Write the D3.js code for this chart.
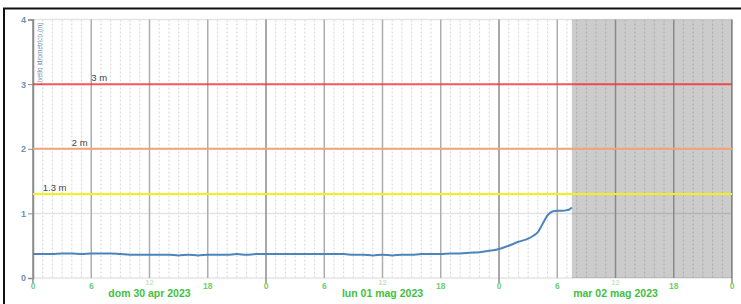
<!DOCTYPE html>
<html>
<head>
<meta charset="utf-8">
<script src="https://cdn.jsdelivr.net/npm/d3@7"></script>
<style>
  body { margin: 0; background: #fff; }
  svg { display: block; font-family: "Liberation Sans", Arial, sans-serif; }
</style>
</head>
<body>
<div id="chart"></div>
<script>
// hydrometric level readings, hours counted from 30 apr 2023 00:00
const levelHours = [
  0, 1, 2, 3, 4, 5, 6, 7, 8, 9, 10, 11, 12, 13, 14, 15, 16, 17, 18, 19, 20, 21, 22, 23,
  24, 25, 26, 27, 28, 29, 30, 31, 32, 33, 34, 35, 36, 37, 38, 39, 40, 41, 42, 43, 44, 45, 46, 47,
  48, 49, 50, 51, 51.5, 52, 52.5, 53, 53.5, 54, 54.5, 55, 55.25, 55.5
];
const levelValues = [
  0.37, 0.37, 0.37, 0.38, 0.38, 0.37, 0.38, 0.38, 0.38, 0.37, 0.36, 0.36, 0.36, 0.36, 0.36, 0.35, 0.36, 0.35, 0.36, 0.36, 0.36, 0.37, 0.36, 0.37,
  0.37, 0.37, 0.37, 0.37, 0.37, 0.37, 0.37, 0.37, 0.37, 0.36, 0.36, 0.35, 0.36, 0.35, 0.36, 0.36, 0.37, 0.37, 0.37, 0.38, 0.38, 0.39, 0.40, 0.42,
  0.45, 0.50, 0.56, 0.61, 0.65, 0.71, 0.84, 0.97, 1.03, 1.04, 1.04, 1.05, 1.06, 1.09
];

const thresholdValues = [3, 2, 1.3];
const thresholdLabels = ["3 m", "2 m", "1.3 m"];
const thresholdColors = ["rgba(255,40,40,0.75)", "#f4a27a", "#f2f21a"];

const dayLabels = ["dom 30 apr 2023", "lun 01 mag 2023", "mar 02 mag 2023"];
const yTicks = [0, 1, 2, 3, 4];
const yTitle = "Livello idrometrico (m)";

const start = new Date(2023, 3, 30, 0, 0);
const end = new Date(2023, 4, 3, 0, 0);
const forecastStart = new Date(2023, 4, 2, 7, 30);

const width = 741, height = 304;
const margin = { top: 19.5, right: 9, bottom: 26, left: 33 };

const svg = d3.select("#chart").append("svg")
  .attr("width", width)
  .attr("height", height);

// frame of the screenshot
svg.append("path")
  .attr("d", `M4,${height} V8.5 H${width}`)
  .attr("fill", "none")
  .attr("stroke", "#111")
  .attr("stroke-width", 2);

const x = d3.scaleTime()
  .domain([start, end])
  .range([margin.left, width - margin.right]);

const y = d3.scaleLinear()
  .domain([0, 4])
  .range([height - margin.bottom, margin.top]);

const data = levelHours.map((h, i) => ({ date: d3.timeMinute.offset(start, h * 60), value: levelValues[i] }));

// hourly dotted grid
const hours = d3.timeHour.range(start, end);
svg.append("g")
  .selectAll("line")
  .data(hours.filter(d => d.getHours() % 6 !== 0))
  .join("line")
  .attr("x1", d => x(d)).attr("x2", d => x(d))
  .attr("y1", y(4)).attr("y2", y(0))
  .attr("stroke", "#d6d6d6")
  .attr("stroke-dasharray", "2,2");

// horizontal grid
svg.append("g")
  .selectAll("line")
  .data(yTicks)
  .join("line")
  .attr("x1", x(start)).attr("x2", x(end))
  .attr("y1", d => y(d)).attr("y2", d => y(d))
  .attr("stroke", "#e4e4e4")
  .attr("stroke-width", 1.5);

// 6-hour solid grid, midnight darker
const sixHours = d3.timeHour.every(6).range(start, d3.timeHour.offset(end, 1));
svg.append("g")
  .selectAll("line")
  .data(sixHours)
  .join("line")
  .attr("x1", d => x(d)).attr("x2", d => x(d))
  .attr("y1", y(4))
  .attr("y2", d => d.getHours() === 0 ? y(0) + 5 : y(0))
  .attr("stroke", d => d.getHours() === 0 ? "#8c8c8c" : "#adadad")
  .attr("stroke-width", 1.5);

// shaded area after the last reading
svg.append("rect")
  .attr("x", x(forecastStart))
  .attr("y", y(4))
  .attr("width", x(end) - x(forecastStart))
  .attr("height", y(0) - y(4))
  .attr("fill", "rgba(0,0,0,0.2)");

// y axis
const gy = svg.append("g")
  .attr("transform", `translate(${x(start)},0)`)
  .call(d3.axisLeft(y).tickValues(yTicks).tickSize(5).tickFormat(d3.format("d")));
gy.select(".domain").attr("stroke", "#8c8c8c").attr("stroke-width", 1.5);
gy.selectAll(".tick line").attr("stroke", "#8c8c8c");
gy.selectAll(".tick text")
  .attr("fill", "#6f8fb8")
  .attr("font-size", 9)
  .attr("font-weight", "bold")
  .attr("x", -7);

svg.append("text")
  .attr("transform", `translate(${x(start) + 9},${y(4) + 66}) rotate(-90)`)
  .attr("text-anchor", "start")
  .attr("fill", "#6f8fb8")
  .attr("font-family", "'Liberation Sans Narrow', 'Liberation Sans', Arial, sans-serif")
  .attr("font-size", 7.5)
  .attr("textLength", 63)
  .attr("lengthAdjust", "spacingAndGlyphs")
  .text(yTitle);

// threshold lines
thresholdValues.forEach((v, i) => {
  svg.append("line")
    .attr("x1", x(start)).attr("x2", x(end))
    .attr("y1", y(v)).attr("y2", y(v))
    .attr("stroke", thresholdColors[i])
    .attr("stroke-width", 2);
  svg.append("text")
    .attr("x", x(d3.timeHour.offset(start, [6.5, 4.2, 1.4][i])))
    .attr("y", y(v) - 3)
    .attr("fill", "#444")
    .attr("font-size", 9.5)
    .text(thresholdLabels[i]);
});

// level line
const line = d3.line()
  .x(d => x(d.date))
  .y(d => y(d.value))
  .curve(d3.curveMonotoneX);

svg.append("path")
  .datum(data)
  .attr("fill", "none")
  .attr("stroke", "#4d84bd")
  .attr("stroke-width", 2)
  .attr("stroke-linejoin", "round")
  .attr("d", line);

// x tick labels
svg.append("g")
  .selectAll("text")
  .data(sixHours)
  .join("text")
  .attr("x", d => x(d))
  .attr("y", d => d.getHours() === 12 ? y(0) + 6.5 : y(0) + 10.5)
  .attr("text-anchor", "middle")
  .attr("font-size", d => d.getHours() === 12 ? 7.5 : 8.5)
  .attr("font-weight", "bold")
  .attr("fill", d => d.getHours() === 12 ? "#bfe6bf" : "#72cc72")
  .text(d => d.getHours());

svg.append("g")
  .selectAll("text")
  .data(dayLabels)
  .join("text")
  .attr("x", (d, i) => x(d3.timeHour.offset(start, 24 * i + 12)))
  .attr("y", y(0) + 18.5)
  .attr("text-anchor", "middle")
  .attr("font-size", 10.5)
  .attr("font-weight", "bold")
  .attr("fill", "#3fbf3f")
  .text(d => d);
</script>
</body>
</html>
